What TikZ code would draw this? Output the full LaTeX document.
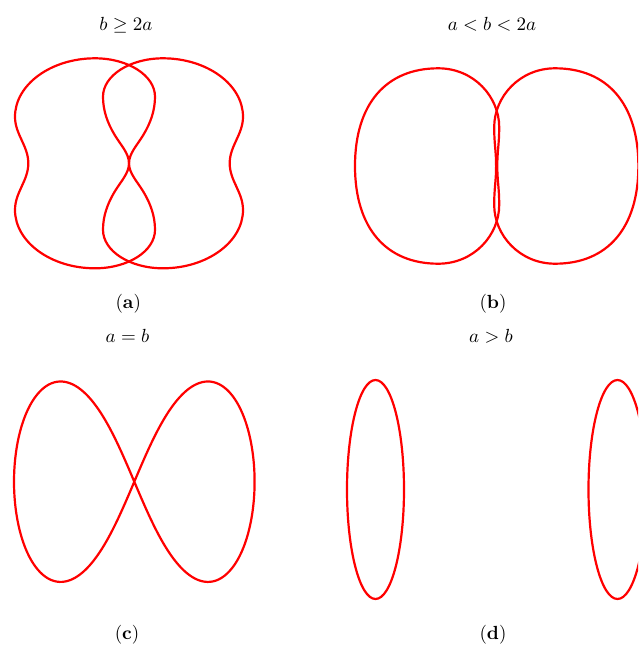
\documentclass[tikz,border=0pt]{standalone}
\begin{document}
\begin{tikzpicture}[x=1pt,y=-1pt,
  curve/.style={draw=red, line width=2.2pt, line join=round},
  lbl/.style={anchor=base, inner sep=0pt, scale=1.9, transform shape}]
\useasboundingbox (0,0) rectangle (638,646);
\clip (0,0) rectangle (638,646);
% (a) two mirrored peanuts
\foreach \s/\t in {1/0,-1/258}{
\begin{scope}[xshift=\t pt, xscale=\s]
\draw[curve] (95,58.3) .. controls (128.1,58.3) and (155,75.5) .. (155,96.7)
 .. controls (155,110.7) and (150.5,123) .. (143.3,135)
 .. controls (137.1,145.3) and (129,153.3) .. (129,163.3)
 .. controls (129,173.3) and (137.1,181.3) .. (143.3,191.6)
 .. controls (150.5,203.6) and (155,215.9) .. (155,229.9)
 .. controls (155,251.1) and (128.1,268.3) .. (95,268.3)
 .. controls (51,268.3) and (15,242) .. (15,210)
 .. controls (15,192) and (28.3,181) .. (28.3,163.3)
 .. controls (28.3,145.6) and (15,134.6) .. (15,116.7)
 .. controls (15,84.6) and (51,58.3) .. (95,58.3) -- cycle;
\end{scope}}
% (b) two mirrored ovals
\foreach \s/\t in {1/0,-1/993.4}{
\begin{scope}[xshift=\t pt, xscale=\s]
\draw[curve] (355,166) .. controls (355,104) and (386,68.3) .. (438.3,68.3)
 .. controls (474,68.3) and (499.2,97) .. (499.2,127)
 .. controls (499.2,145) and (497.3,150) .. (497.3,166)
 .. controls (497.3,182) and (499.2,187) .. (499.2,205)
 .. controls (499.2,235) and (474,263.7) .. (438.3,263.7)
 .. controls (386,263.7) and (355,228) .. (355,166) -- cycle;
\end{scope}}
% (c) lemniscate
\draw[curve] plot[domain=0:360, samples=240, smooth]
  ({134.3-120.3*cos(\x)/(1+sin(\x)^2)}, {481.7-283.5*sin(\x)*cos(\x)/(1+sin(\x)^2)}) -- cycle;
% (d) two ovals
\draw[curve] (375.5,489.5) ellipse [x radius=28.5, y radius=109.5];
\draw[curve] (617.5,489.5) ellipse [x radius=29, y radius=109.5];
% labels
\node[lbl] (ta) at (126,30.7) {$b\geq 2a$};
\node[lbl] (tb) at (492,30.7) {$a<b<2a$};
\node[lbl] (ca) at (128.3,308.3) {(\textbf{a})};
\node[lbl] (cb) at (493,308.3) {(\textbf{b})};
\node[lbl] (tc) at (127.5,342.3) {$a=b$};
\node[lbl] (td) at (491,342.3) {$a>b$};
\node[lbl] (cc) at (127,639.5) {(\textbf{c})};
\node[lbl] (cd) at (493,639.5) {(\textbf{d})};
\end{tikzpicture}
\end{document}
